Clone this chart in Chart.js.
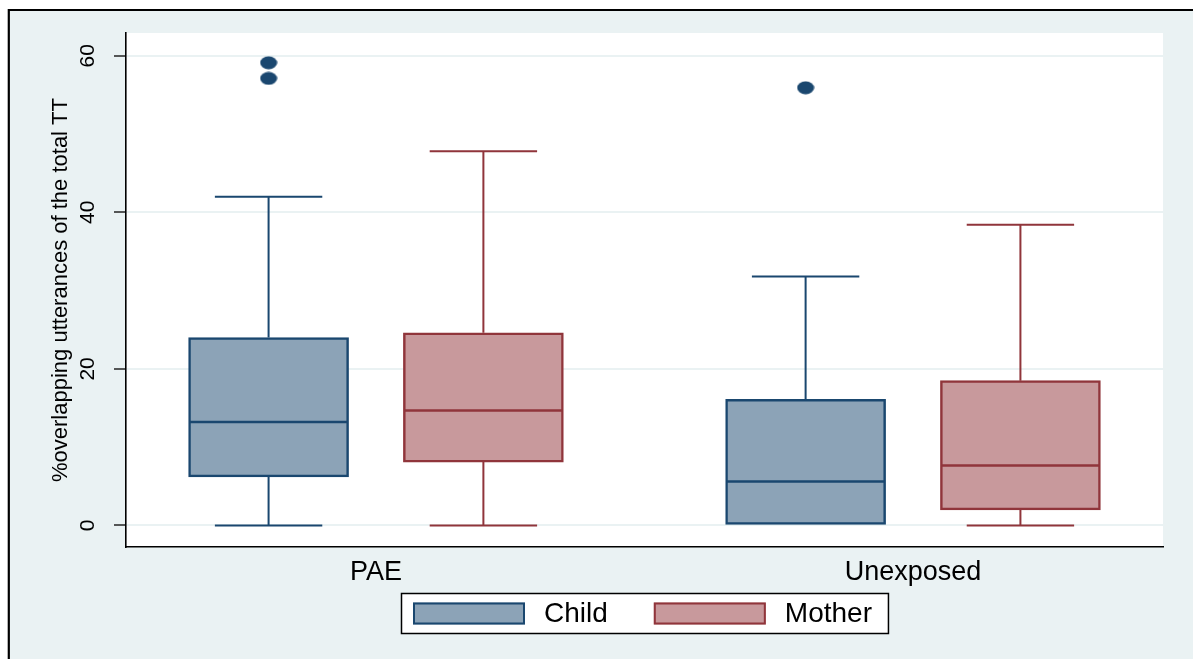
<!DOCTYPE html>
<html>
<head>
<meta charset="utf-8">
<title>Overlapping utterances by group</title>
<script src="https://cdn.jsdelivr.net/npm/chart.js@4.4.1/dist/chart.umd.min.js"></script>
<style>
  html, body { margin: 0; padding: 0; background: #ffffff; }
  canvas { display: block; }
</style>
</head>
<body>
<canvas id="chart" width="1193" height="659"></canvas>
<script>
// ---- data ----
const groups = ['PAE', 'Unexposed'];
const seriesNames = ['Child', 'Mother'];
const yTicks = [0, 20, 40, 60];

const childMin = [0, 0];
const childQ1 = [6.2, 0];
const childMedian = [13.2, 5.6];
const childQ3 = [24.0, 16.1];
const childMax = [42.0, 31.8];
const childOutliers = [[59.1, 57.1], [55.9]];

const motherMin = [0, 0];
const motherQ1 = [8.1, 2.0];
const motherMedian = [14.7, 7.65];
const motherQ3 = [24.6, 18.5];
const motherMax = [47.8, 38.4];
const motherOutliers = [[], []];

// ---- styling ----
const FONT = "'Liberation Sans', Arial, Helvetica, sans-serif";
const BG = '#eaf2f3';
const series = [
  { name: seriesNames[0], offset: -0.2, line: '#1a476f', fill: '#8ca3b7',
    min: childMin, q1: childQ1, med: childMedian, q3: childQ3, max: childMax, out: childOutliers },
  { name: seriesNames[1], offset: 0.2, line: '#90353b', fill: '#c8999c',
    min: motherMin, q1: motherQ1, med: motherMedian, q3: motherQ3, max: motherMax, out: motherOutliers }
];
const BOX_PX = 160;     // box width in pixels
const CAP_HALF = 0.1;   // half width of whisker caps, x units

// filled ellipse used as the outlier marker
function ellipseMarker(color) {
  const c = document.createElement('canvas');
  c.width = 18; c.height = 14;
  const g = c.getContext('2d');
  g.fillStyle = color;
  g.beginPath();
  g.ellipse(9, 7, 8.5, 6.5, 0, 0, Math.PI * 2);
  g.fill();
  return c;
}

const datasets = series.map(s => ({
  type: 'bar',
  label: s.name,
  data: groups.map((g, i) => ({ x: i + 1 + s.offset, y: [s.q1[i], s.q3[i]] })),
  backgroundColor: s.fill,
  borderColor: s.line,
  borderWidth: 2.5,
  borderSkipped: false,
  barThickness: BOX_PX,
  grouped: false,
  order: 2
}));

series.forEach(s => {
  const pts = [];
  groups.forEach((g, i) => s.out[i].forEach(v => pts.push({ x: i + 1 + s.offset, y: v })));
  datasets.push({
    type: 'scatter',
    label: s.name + ' outliers',
    data: pts,
    pointStyle: ellipseMarker(s.line),
    backgroundColor: s.line,
    borderColor: s.line,
    pointRadius: 9,
    order: 1
  });
});

// page background, outer frame and white plot region
const backdrop = {
  id: 'backdrop',
  beforeDraw(chart) {
    const { ctx, width, height, chartArea: a } = chart;
    ctx.save();
    ctx.fillStyle = '#ffffff';
    ctx.fillRect(0, 0, width, height);
    ctx.fillStyle = BG;
    ctx.fillRect(8, 10, width, height);
    ctx.strokeStyle = '#000000';
    ctx.lineWidth = 2.2;
    ctx.beginPath();
    ctx.moveTo(8.8, height + 5);
    ctx.lineTo(8.8, 10);
    ctx.lineTo(width + 5, 10);
    ctx.stroke();
    ctx.fillStyle = '#ffffff';
    ctx.fillRect(a.left, a.top, a.right - a.left, a.bottom - a.top);
    ctx.restore();
  }
};

// whiskers, caps and medians of each box
const boxParts = {
  id: 'boxParts',
  beforeDatasetsDraw(chart) {
    const { ctx, scales: { x, y } } = chart;
    ctx.save();
    ctx.lineWidth = 2;
    series.forEach(s => {
      ctx.strokeStyle = s.line;
      groups.forEach((g, i) => {
        const cx = x.getPixelForValue(i + 1 + s.offset);
        const l = x.getPixelForValue(i + 1 + s.offset - CAP_HALF);
        const r = x.getPixelForValue(i + 1 + s.offset + CAP_HALF);
        const yMin = y.getPixelForValue(s.min[i]);
        const yQ1 = y.getPixelForValue(s.q1[i]);
        const yQ3 = y.getPixelForValue(s.q3[i]);
        const yMax = y.getPixelForValue(s.max[i]);
        ctx.beginPath();
        ctx.moveTo(cx, yQ3); ctx.lineTo(cx, yMax);
        ctx.moveTo(l, yMax); ctx.lineTo(r, yMax);
        // lower whisker and cap are hidden by the box when the minimum equals Q1
        if (yMin - yQ1 > 1) {
          ctx.moveTo(cx, yQ1); ctx.lineTo(cx, yMin);
          ctx.moveTo(l, yMin); ctx.lineTo(r, yMin);
        }
        ctx.stroke();
      });
    });
    ctx.restore();
  },
  afterDatasetsDraw(chart) {
    const { ctx, scales: { x, y } } = chart;
    ctx.save();
    ctx.lineWidth = 2.5;
    series.forEach(s => {
      ctx.strokeStyle = s.line;
      groups.forEach((g, i) => {
        const cx = x.getPixelForValue(i + 1 + s.offset);
        const ym = y.getPixelForValue(s.med[i]);
        ctx.beginPath();
        ctx.moveTo(cx - BOX_PX / 2 + 1, ym);
        ctx.lineTo(cx + BOX_PX / 2 - 1, ym);
        ctx.stroke();
      });
    });
    ctx.restore();
  }
};

// framed legend below the x axis labels
const framedLegend = {
  id: 'framedLegend',
  afterDraw(chart) {
    const { ctx, chartArea: a } = chart;
    const patchW = 112, patchH = 22, gapText = 19, gapItem = 46, padL = 12, padR = 17;
    const top = 593, bottom = 634;
    ctx.save();
    ctx.font = '28px ' + FONT;
    const widths = series.map(s => ctx.measureText(s.name).width);
    let total = padL + padR;
    widths.forEach((w, i) => { total += patchW + gapText + w + (i < widths.length - 1 ? gapItem : 0); });
    const left = Math.round((a.left + a.right) / 2 - total / 2);
    ctx.fillStyle = '#ffffff';
    ctx.fillRect(left, top, total, bottom - top);
    ctx.strokeStyle = '#000000';
    ctx.lineWidth = 1.5;
    ctx.strokeRect(left + 0.5, top + 0.5, total - 1, bottom - top - 1);
    const mid = (top + bottom) / 2;
    let xPos = left + padL;
    series.forEach((s, i) => {
      ctx.fillStyle = s.fill;
      ctx.fillRect(xPos, mid - patchH / 2, patchW, patchH);
      ctx.strokeStyle = s.line;
      ctx.lineWidth = 2;
      ctx.strokeRect(xPos + 1, mid - patchH / 2 + 1, patchW - 2, patchH - 2);
      xPos += patchW + gapText;
      ctx.fillStyle = '#000000';
      ctx.textBaseline = 'middle';
      ctx.textAlign = 'left';
      ctx.fillText(s.name, xPos, mid + 1);
      xPos += widths[i] + gapItem;
    });
    ctx.restore();
  }
};

Chart.defaults.font.family = FONT;
Chart.defaults.color = '#000000';

new Chart(document.getElementById('chart'), {
  data: { datasets },
  options: {
    responsive: false,
    devicePixelRatio: 1,
    animation: false,
    layout: { padding: { top: 33, right: 30, bottom: 0, left: 0 } },
    plugins: {
      legend: { display: false },
      tooltip: { enabled: false }
    },
    scales: {
      x: {
        type: 'linear',
        offset: false,
        min: 0.5345,
        max: 2.4655,
        afterBuildTicks: axis => { axis.ticks = groups.map((g, i) => ({ value: i + 1 })); },
        afterFit: axis => { axis.height = 112; },
        grid: { display: false, offset: false },
        border: { display: true, color: '#000000', width: 1.6 },
        ticks: {
          autoSkip: false,
          maxRotation: 0,
          padding: 1,
          font: { size: 27 },
          color: '#000000',
          callback: (v, i) => groups[i]
        }
      },
      y: {
        type: 'linear',
        min: -2.75,
        max: 62.9,
        afterBuildTicks: axis => { axis.ticks = yTicks.map(v => ({ value: v })); },
        afterFit: axis => { axis.width = 126; },
        grid: {
          color: BG,
          lineWidth: 2,
          tickLength: 12,
          tickColor: '#222222',
          tickWidth: 1.5
        },
        border: { display: true, color: '#000000', width: 1.6 },
        ticks: {
          minRotation: 90,
          maxRotation: 90,
          crossAlign: 'center',
          padding: 14,
          font: { size: 21 },
          color: '#000000'
        },
        title: {
          display: true,
          text: '%overlapping utterances of the total TT',
          font: { size: 22 },
          color: '#000000',
          padding: { top: 48, bottom: 0 }
        }
      }
    }
  },
  plugins: [backdrop, boxParts, framedLegend]
});
</script>
</body>
</html>
